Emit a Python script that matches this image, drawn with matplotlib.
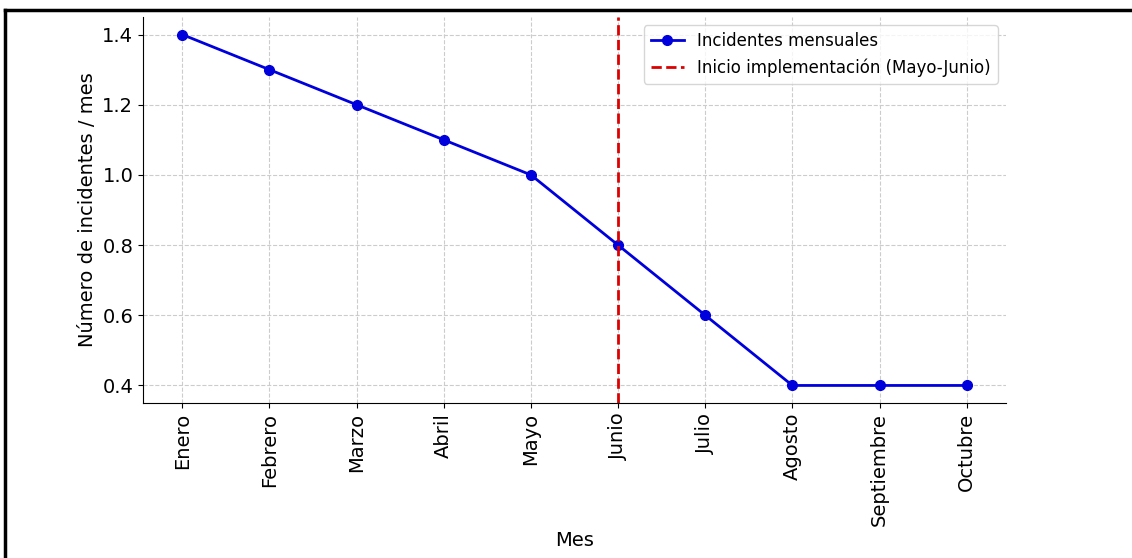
import matplotlib
matplotlib.use("Agg")
import matplotlib.pyplot as plt
from matplotlib.lines import Line2D

meses = ["Enero", "Febrero", "Marzo", "Abril", "Mayo", "Junio",
         "Julio", "Agosto", "Septiembre", "Octubre"]
incidentes = [1.4, 1.3, 1.2, 1.1, 1.0, 0.8, 0.6, 0.4, 0.4, 0.4]
inicio_idx = 5

W, H = 1132, 558
fig = plt.figure(figsize=(W / 100, H / 100), dpi=100)
ax = fig.add_axes([143 / W, 1 - 403 / H, (1006 - 143) / W, (403 - 17) / H])

x = list(range(len(meses)))
ax.plot(x, incidentes, color="#0000dd", marker="o", markersize=7, linewidth=2,
        label="Incidentes mensuales")
ax.axvline(inicio_idx, color="#dd0000", linestyle="--", linewidth=2,
           label="Inicio implementación (Mayo-Junio)")

ax.set_xticks(x)
ax.set_xticklabels(meses, rotation=90, fontsize=14)
ax.tick_params(axis="y", labelsize=14)
ax.set_yticks([0.4, 0.6, 0.8, 1.0, 1.2, 1.4])
ax.set_xlabel("Mes", fontsize=14)
ax.set_ylabel("Número de incidentes / mes", fontsize=14)
ax.grid(True, linestyle="--", color="#cccccc", linewidth=0.8)
ax.spines["top"].set_visible(False)
ax.spines["right"].set_visible(False)
ax.legend(loc="upper right", fontsize=12)

# screenshot frame
fig.add_artist(Line2D([5 / W, 1], [1 - 10 / H, 1 - 10 / H], color="black", linewidth=2.5))
fig.add_artist(Line2D([5 / W, 5 / W], [0, 1 - 10 / H], color="black", linewidth=2.5))

fig.savefig("out.png", dpi=100)
